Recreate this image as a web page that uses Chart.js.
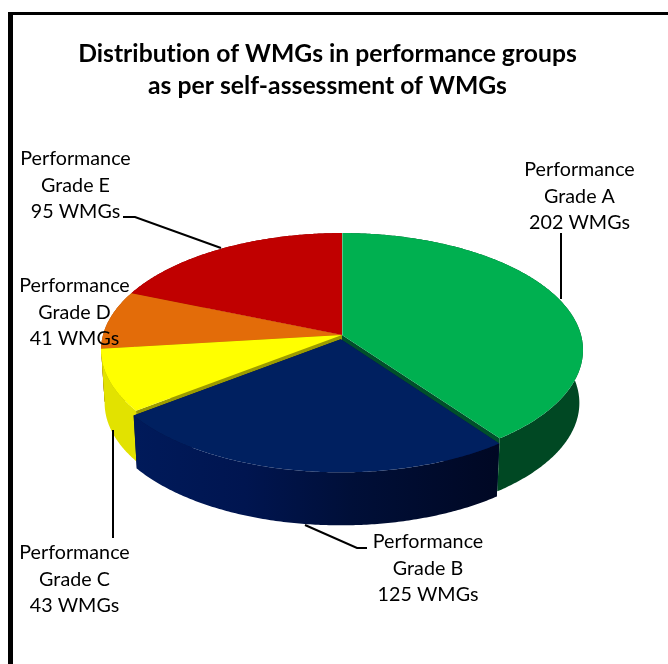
<!DOCTYPE html>
<html>
<head>
<meta charset="utf-8">
<style>
  html, body { margin: 0; padding: 0; background: #fff; }
  canvas { display: block; }
</style>
<script src="https://cdn.jsdelivr.net/npm/chart.js@4/dist/chart.umd.min.js"></script>
</head>
<body>
<canvas id="chart" width="668" height="664"></canvas>
<script>
// values
const categories = ['Grade A', 'Grade B', 'Grade C', 'Grade D', 'Grade E'];
const values = [202, 125, 43, 41, 95];
const titleLines = ['Distribution of WMGs in performance groups', 'as per self-assessment of WMGs'];

const topColors = ['#00B050', '#002060', '#FFFF00', '#E36C09', '#C00000'];
const wallColors = ['#004823', null, '#E2E200', '#A04C06', '#800000'];
const innerColors = ['#00502A', '#001040', '#9C9C00', '#A04C06', '#800000'];
const sliceOffsets = [0, 10, 0, 0, 0];

// where the text labels sit: centre x, first line y
const labelSpots = [[579.5, 170], [428, 542], [74.5, 553], [74.5, 286], [75.5, 159]];
const leaders = [
  [[561, 233], [561, 299]],
  [[305, 525], [357, 548], [367, 548]],
  [[113, 430], [113, 538]],
  [],
  [[123, 217], [135, 217], [221, 248]]
];

// projection of the flat pie onto the tilted view
const view = { cx: 342, cy: 335, rx: 239, ry: 115, k: 0.128, depth: 53, shrink: 0.985 };

function project(ux, uy) {
  const s = 1 / (1 - view.k * uy);
  return [view.cx + view.rx * ux * s, view.cy + view.ry * uy * s];
}
function lower(p) {
  return [view.cx + (p[0] - view.cx) * view.shrink, p[1] + view.depth];
}
function trace(ctx, pts) {
  ctx.beginPath();
  pts.forEach((p, i) => i ? ctx.lineTo(p[0], p[1]) : ctx.moveTo(p[0], p[1]));
  ctx.closePath();
}

function sliceGeometry(arc) {
  const { startAngle, endAngle, outerRadius } = arc.getProps(['startAngle', 'endAngle', 'outerRadius']);
  const mid = (startAngle + endAngle) / 2;
  const shift = (arc.options.offset || 0) / outerRadius;
  const ox = Math.cos(mid) * shift, oy = Math.sin(mid) * shift;
  const steps = Math.ceil((endAngle - startAngle) / 0.01);
  const rim = [];
  for (let i = 0; i <= steps; i++) {
    const a = startAngle + (endAngle - startAngle) * i / steps;
    rim.push(project(Math.cos(a) + ox, Math.sin(a) + oy));
  }
  return { rim, centre: project(ox, oy), depthOrder: Math.sin(mid) };
}

function drawWalls(ctx, g, i) {
  const under = g.rim.map(lower).reverse();
  const c = g.centre, cLow = lower(c);
  ctx.fillStyle = innerColors[i];
  trace(ctx, [c, g.rim[0], lower(g.rim[0]), cLow]);
  ctx.fill();
  trace(ctx, [c, g.rim[g.rim.length - 1], lower(g.rim[g.rim.length - 1]), cLow]);
  ctx.fill();
  let wall = wallColors[i];
  if (!wall) {
    wall = ctx.createLinearGradient(136, 0, 496, 0);
    wall.addColorStop(0, '#001A5A');
    wall.addColorStop(0.3, '#001550');
    wall.addColorStop(0.6, '#000F38');
    wall.addColorStop(1, '#000824');
  }
  ctx.fillStyle = wall;
  trace(ctx, g.rim.concat(under));
  ctx.fill();
}

function drawTop(ctx, g, i) {
  ctx.fillStyle = topColors[i];
  trace(ctx, [g.centre].concat(g.rim));
  ctx.fill();
}

const pie3d = {
  id: 'pie3d',
  beforeDraw(chart) {
    const ctx = chart.ctx;
    ctx.letterSpacing = '0.02px'; // keeps Lato from joining "ti"
    ctx.save();
    ctx.fillStyle = '#fff';
    ctx.fillRect(0, 0, chart.width, chart.height);
    ctx.fillStyle = '#000';
    ctx.fillRect(8, 12, 5, chart.height - 12);
    ctx.fillRect(8, 12, chart.width - 8, 3);
    ctx.restore();
  },
  beforeDatasetsDraw(chart) {
    const ctx = chart.ctx;
    const arcs = chart.getDatasetMeta(0).data;
    const geo = arcs.map(sliceGeometry);
    const base = [], pulled = [];
    arcs.forEach((arc, i) => (arc.options.offset ? pulled : base).push(i));
    base.sort((a, b) => geo[a].depthOrder - geo[b].depthOrder);
    ctx.save();
    base.forEach(i => drawWalls(ctx, geo[i], i));
    base.forEach(i => drawTop(ctx, geo[i], i));
    // light edge where the first slice starts
    ctx.strokeStyle = '#5CC48C';
    ctx.lineWidth = 1;
    ctx.beginPath();
    ctx.moveTo(geo[0].centre[0] + 0.5, geo[0].centre[1]);
    ctx.lineTo(geo[0].rim[0][0] + 0.5, geo[0].rim[0][1]);
    ctx.stroke();
    pulled.forEach(i => { drawWalls(ctx, geo[i], i); drawTop(ctx, geo[i], i); });
    ctx.restore();
    return false;
  },
  afterDraw(chart) {
    const ctx = chart.ctx;
    ctx.save();
    ctx.strokeStyle = '#000';
    ctx.lineWidth = 2;
    leaders.forEach(line => {
      if (!line.length) return;
      ctx.beginPath();
      line.forEach((p, i) => i ? ctx.lineTo(p[0], p[1]) : ctx.moveTo(p[0], p[1]));
      ctx.stroke();
    });
    ctx.fillStyle = '#000';
    ctx.font = '19.7px Lato';
    ctx.textAlign = 'center';
    ctx.textBaseline = 'middle';
    categories.forEach((name, i) => {
      const [x, y] = labelSpots[i];
      ctx.fillText('Performance', x, y);
      ctx.fillText(name, x, y + 26.5);
      ctx.fillText(values[i] + ' WMGs', x, y + 53);
    });
    ctx.restore();
  }
};

new Chart(document.getElementById('chart'), {
  type: 'pie',
  data: {
    labels: categories,
    datasets: [{
      data: values,
      backgroundColor: topColors,
      offset: sliceOffsets,
      borderWidth: 0
    }]
  },
  options: {
    responsive: false,
    animation: false,
    layout: { padding: { top: 38, right: 13 } },
    plugins: {
      legend: { display: false },
      tooltip: { enabled: false },
      title: {
        display: true,
        text: titleLines,
        color: '#000',
        font: { family: 'Lato', size: 24.7, weight: 'bold', lineHeight: 1.3 },
        padding: { top: 0, bottom: 0 }
      }
    }
  },
  plugins: [pie3d]
});
</script>
</body>
</html>
